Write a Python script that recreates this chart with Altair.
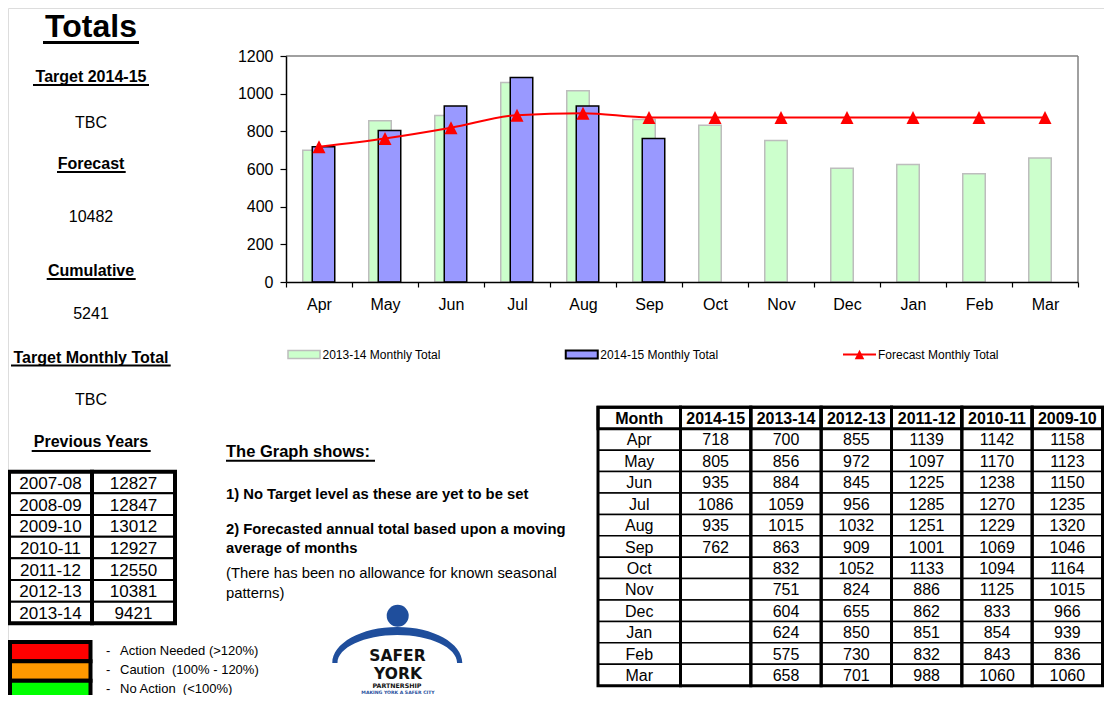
import altair as alt
import pandas as pd

# ---------------- data ----------------
months = ["Apr", "May", "Jun", "Jul", "Aug", "Sep", "Oct", "Nov", "Dec", "Jan", "Feb", "Mar"]
total_2013_14 = [700, 856, 884, 1059, 1015, 863, 832, 751, 604, 624, 575, 658]
total_2014_15 = [718, 805, 935, 1086, 935, 762]
forecast_monthly = [718, 762, 819, 886, 896, 874, 874, 874, 874, 874, 874, 874]
y_ticks = [0, 200, 400, 600, 800, 1000, 1200]
series_names = ["2013-14 Monthly Total", "2014-15 Monthly Total", "Forecast Monthly Total"]

prev_years = ["2007-08", "2008-09", "2009-10", "2010-11", "2011-12", "2012-13", "2013-14"]
prev_totals = [12827, 12847, 13012, 12927, 12550, 10381, 9421]

table_years = ["2014-15", "2013-14", "2012-13", "2011-12", "2010-11", "2009-10"]
tbl_2014_15 = [718, 805, 935, 1086, 935, 762]
tbl_2013_14 = [700, 856, 884, 1059, 1015, 863, 832, 751, 604, 624, 575, 658]
tbl_2012_13 = [855, 972, 845, 956, 1032, 909, 1052, 824, 655, 850, 730, 701]
tbl_2011_12 = [1139, 1097, 1225, 1285, 1251, 1001, 1133, 886, 862, 851, 832, 988]
tbl_2010_11 = [1142, 1170, 1238, 1270, 1229, 1069, 1094, 1125, 833, 854, 843, 1060]
tbl_2009_10 = [1158, 1123, 1150, 1235, 1320, 1046, 1164, 1015, 966, 939, 836, 1060]

rag_labels = ["Action Needed (>120%)", "Caution\u00a0 (100% - 120%)", "No Action\u00a0 (<100%)"]

side_texts = {
    "title": "Totals", "target_h": "Target 2014-15", "target_v": "TBC",
    "forecast_h": "Forecast", "forecast_v": "10482",
    "cum_h": "Cumulative", "cum_v": "5241",
    "tmt_h": "Target Monthly Total", "tmt_v": "TBC", "prev_h": "Previous Years",
}
notes = [
    "The Graph shows: ",
    "1) No Target level as these are yet to be set",
    "2) Forecasted annual total based upon a moving",
    "average of months",
    "(There has been no allowance for known seasonal",
    "patterns)",
]

# ---------------- layout helpers ----------------
FONT = "Liberation Sans, Arial, sans-serif"
W, H = 1096, 687
NAVY = "#1F4E9C"


def R(v):
    # reference page coordinate -> canvas coordinate (page margin 8px)
    return v - 8


def label(s, x, y, size, bold=False, align="center", color="black", font=FONT,
          baseline="alphabetic"):
    return alt.Chart(pd.DataFrame({"t": [s]})).mark_text(
        align=align, baseline=baseline, font=font, fontSize=size,
        fontWeight="bold" if bold else "normal", color=color
    ).encode(x=alt.value(R(x)), y=alt.value(R(y)), text="t:N")


def hrule(x1, x2, y, w=2, color="black"):
    return alt.Chart(pd.DataFrame({"t": [0]})).mark_rule(color=color, strokeWidth=w).encode(
        x=alt.value(R(x1)), x2=alt.value(R(x2)), y=alt.value(R(y)))


def vrule(x, y1, y2, w=2, color="black"):
    return alt.Chart(pd.DataFrame({"t": [0]})).mark_rule(color=color, strokeWidth=w).encode(
        x=alt.value(R(x)), y=alt.value(R(y1)), y2=alt.value(R(y2)))


layers = []

# ---------------- main chart ----------------
X_MAIN = alt.X(
    "month:N", sort=months, title=None,
    scale=alt.Scale(domain=months, range=[R(286), R(1078)], paddingInner=0, paddingOuter=0),
    axis=alt.Axis(orient="bottom", offset=R(282) - H, tickBand="extent", tickSize=5,
                  tickWidth=1.2, tickColor="black", domainColor="black", domainWidth=1.5,
                  labelFont=FONT, labelFontSize=16, labelColor="black", labelPadding=9,
                  labelAngle=0, title=None, zindex=1),
)
Y_MAIN = alt.Y(
    "value:Q", title=None,
    scale=alt.Scale(domain=[0, 1200], range=[R(282), R(56)], nice=False, zero=True),
    axis=alt.Axis(orient="left", offset=-R(286), values=y_ticks, format="d", tickSize=6,
                  tickWidth=1.2, tickColor="black", domainColor="black", domainWidth=1.5,
                  labelFont=FONT, labelFontSize=16, labelColor="black", labelPadding=7,
                  grid=False, title=None, zindex=1),
)
TRI = "M0,-1L1,1L-1,1Z"

df13 = pd.DataFrame({"month": months, "value": total_2013_14})
df14 = pd.DataFrame({"month": months[:len(total_2014_15)], "value": total_2014_15})
dff = pd.DataFrame({"month": months, "value": forecast_monthly})

bars13 = alt.Chart(df13).mark_bar(width=22.5, xOffset=-5, fill="#CCFFCC", stroke="#BDBDBD",
                                  strokeWidth=1.5).encode(x=X_MAIN, y=Y_MAIN)
bars14 = alt.Chart(df14).mark_bar(width=22.5, xOffset=4.5, fill="#9999FF", stroke="black",
                                  strokeWidth=1.5).encode(x=X_MAIN, y=Y_MAIN)
fline = alt.Chart(dff).mark_line(color="#FF0000", strokeWidth=2,
                                 interpolate="monotone").encode(x=X_MAIN, y=Y_MAIN)
fpts = alt.Chart(dff).mark_point(shape=TRI, size=169, filled=True, fill="#FF0000",
                                 opacity=1, strokeWidth=0).encode(x=X_MAIN, y=Y_MAIN)
layers.append(alt.layer(bars13, bars14, fline, fpts))
layers.append(hrule(286, 1078, 56, 1.5, "#808080"))
layers.append(vrule(1078, 56, 282, 1.5, "#808080"))

# ---------------- chart legend ----------------
dleg = pd.DataFrame({"series": series_names})
X_LEG = alt.X("series:N", axis=None,
              scale=alt.Scale(type="point", domain=series_names, range=[R(304), R(859.5)], padding=0))
LEG_Y = alt.value(R(354.5))
RECT = "M-1,-0.25H1V0.25H-1Z"
leg_g = alt.Chart(dleg).transform_filter(alt.datum.series == series_names[0]).mark_point(
    shape=RECT, size=1024, filled=True, fill="#CCFFCC", stroke="#BDBDBD", strokeWidth=1.5,
    opacity=1).encode(x=X_LEG, y=LEG_Y)
leg_b = alt.Chart(dleg).transform_filter(alt.datum.series == series_names[1]).mark_point(
    shape=RECT, size=1024, filled=True, fill="#9999FF", stroke="black", strokeWidth=2,
    opacity=1).encode(x=X_LEG, y=LEG_Y)
leg_l = alt.Chart(dleg).transform_filter(alt.datum.series == series_names[2]).mark_point(
    shape="M-1,0H1", size=1089, filled=False, stroke="#FF0000", strokeWidth=2,
    opacity=1).encode(x=X_LEG, y=LEG_Y)
leg_t = alt.Chart(dleg).transform_filter(alt.datum.series == series_names[2]).mark_point(
    shape=TRI, size=90, filled=True, fill="#FF0000", strokeWidth=0,
    opacity=1).encode(x=X_LEG, y=LEG_Y)
leg_txt = alt.Chart(dleg).mark_text(align="left", baseline="middle", dx=18.5, font=FONT,
                                    fontSize=12, color="black").encode(
    x=X_LEG, y=LEG_Y, text="series:N")
layers.append(alt.layer(leg_g, leg_b, leg_l, leg_t, leg_txt))

# ---------------- left column texts ----------------
CX = 91
layers += [
    label(side_texts["title"], CX, 37, 32, bold=True), hrule(43, 139, 42.5, 2.8),
    label(side_texts["target_h"], CX, 81.7, 16, bold=True), hrule(33, 149, 85, 2),
    label(side_texts["target_v"], CX, 127.7, 16),
    label(side_texts["forecast_h"], CX, 169.3, 16, bold=True), hrule(57, 125.7, 172, 2),
    label(side_texts["forecast_v"], CX, 222.3, 16),
    label(side_texts["cum_h"], CX, 275.7, 16, bold=True), hrule(46.7, 135.7, 279, 2),
    label(side_texts["cum_v"], CX, 319.3, 16),
    label(side_texts["tmt_h"], CX, 362.7, 16, bold=True), hrule(11, 170.7, 365.5, 2),
    label(side_texts["tmt_v"], CX, 405, 16),
    label(side_texts["prev_h"], CX, 447.3, 16, bold=True), hrule(31.7, 150.7, 451, 2),
]


# ---------------- tables ----------------
def table(df, X, Y, col_domain, y_top, y_bot, fsize, cell_w, frame_w, header=None,
          hsize=None, dy=1):
    cells_df = df if header is None else df[df["row"] != header]
    parts = [alt.Chart(cells_df).mark_rect(fill="white", stroke="black",
                                           strokeWidth=cell_w).encode(x=X, y=Y)]
    if header is not None:
        hdf = df[df["row"] == header]
        parts.append(alt.Chart(hdf).mark_rect(fill="white", stroke="black",
                                              strokeWidth=frame_w).encode(x=X, y=Y))
    parts.append(alt.Chart(pd.DataFrame({"col": col_domain})).mark_rect(
        fill="white", fillOpacity=0, stroke="black", strokeWidth=frame_w).encode(
        x=X, y=alt.value(R(y_top)), y2=alt.value(R(y_bot))))
    parts.append(alt.Chart(cells_df).mark_text(font=FONT, fontSize=fsize, baseline="middle",
                                               dy=dy, color="black").encode(
        x=X, y=Y, text="label:N"))
    if header is not None:
        parts.append(alt.Chart(hdf).mark_text(font=FONT, fontSize=hsize, fontWeight="bold",
                                              baseline="middle", dy=dy, color="black").encode(
            x=X, y=Y, text="label:N"))
    return alt.layer(*parts)


# previous years table
prev_cols = ["year", "total"]
prev_df = pd.DataFrame(
    [{"row": y, "col": "year", "label": y} for y in prev_years]
    + [{"row": y, "col": "total", "label": str(t)} for y, t in zip(prev_years, prev_totals)])
X_PREV = alt.X("col:N", axis=None, scale=alt.Scale(domain=prev_cols, range=[R(9), R(175)],
                                                 paddingInner=0, paddingOuter=0))
Y_PREV = alt.Y("row:N", axis=None, scale=alt.Scale(domain=prev_years, range=[R(471.7), R(623.3)],
                                                 paddingInner=0, paddingOuter=0))
layers.append(table(prev_df, X_PREV, Y_PREV, prev_cols, 471.7, 623.3, 17, 2, 4, dy=1.5))

# monthly table
rows_all = ["Month"] + months
year_vals = [tbl_2014_15, tbl_2013_14, tbl_2012_13, tbl_2011_12, tbl_2010_11, tbl_2009_10]
month_df = pd.DataFrame([{"row": r, "col": "Month", "label": r} for r in rows_all])
yrec = []
for yname, vals in zip(table_years, year_vals):
    yrec.append({"row": "Month", "col": yname, "label": yname})
    for i, m in enumerate(months):
        yrec.append({"row": m, "col": yname, "label": str(vals[i]) if i < len(vals) else ""})
years_df = pd.DataFrame(yrec)
Y_BIG = alt.Y("row:N", axis=None, scale=alt.Scale(domain=rows_all, range=[R(407.3), R(685.7)],
                                                paddingInner=0, paddingOuter=0))
X_BIG_M = alt.X("col:N", axis=None, scale=alt.Scale(domain=["Month"], range=[R(598), R(680.5)],
                                                  paddingInner=0, paddingOuter=0))
X_BIG_Y = alt.X("col:N", axis=None, scale=alt.Scale(domain=table_years, range=[R(680.5), R(1102.5)],
                                                  paddingInner=0, paddingOuter=0))
layers.append(table(month_df, X_BIG_M, Y_BIG, ["Month"], 407.3, 685.7, 16, 1.5, 3,
                    header="Month", hsize=16))
layers.append(table(years_df, X_BIG_Y, Y_BIG, table_years, 407.3, 685.7, 16, 1.5, 3,
                    header="Month", hsize=16))

# ---------------- RAG key ----------------
rag_df = pd.DataFrame({"label": rag_labels})
Y_RAG = alt.Y("label:N", axis=None, scale=alt.Scale(domain=rag_labels, range=[R(642), R(700)],
                                                  paddingInner=0, paddingOuter=0))
rag_rect = alt.Chart(rag_df).mark_rect(stroke="black", strokeWidth=4, opacity=1).encode(
    x=alt.value(R(10)), x2=alt.value(R(90.5)), y=Y_RAG,
    color=alt.Color("label:N", legend=None,
                    scale=alt.Scale(domain=rag_labels, range=["#FF0000", "#FF9900", "#00FF00"])))
rag_dash = alt.Chart(rag_df).mark_text(text="-", font=FONT, fontSize=13, baseline="middle",
                                       align="left", dy=-1, color="black").encode(
    x=alt.value(R(106)), y=Y_RAG)
rag_txt = alt.Chart(rag_df).mark_text(font=FONT, fontSize=13, baseline="middle", align="left",
                                      dy=-1, color="black").encode(
    x=alt.value(R(120)), y=Y_RAG, text="label:N")
layers.append(alt.layer(rag_rect, rag_dash, rag_txt).resolve_scale(color="independent"))

# ---------------- notes ----------------
layers += [
    label(notes[0], 226, 456.7, 16.5, bold=True, align="left"), hrule(226, 375, 460.7, 2),
    label(notes[1], 226, 499.3, 14.8, bold=True, align="left"),
    label(notes[2], 226, 534.3, 14.8, bold=True, align="left"),
    label(notes[3], 226, 553, 14.8, bold=True, align="left"),
    label(notes[4], 226, 577.7, 14.8, align="left"),
    label(notes[5], 226, 597.5, 14.8, align="left"),
]

# ---------------- logo ----------------
SWOOSH = ("M-1,0C-1,-0.306,-0.552,-0.554,0,-0.554C0.552,-0.554,1,-0.306,1,0"
          "L0.92,0C0.92,-0.237,0.508,-0.43,0,-0.43C-0.508,-0.43,-0.92,-0.237,-0.92,0Z")
logo_df = pd.DataFrame({"t": [0]})
layers.append(alt.Chart(logo_df).mark_point(shape=SWOOSH, size=16900, filled=True, fill=NAVY,
                                            strokeWidth=0, opacity=1).encode(
    x=alt.value(R(397.3)), y=alt.value(R(663))))
layers.append(alt.Chart(logo_df).mark_point(shape="circle", size=484, filled=True, fill=NAVY,
                                            strokeWidth=0, opacity=1).encode(
    x=alt.value(R(397.7)), y=alt.value(R(615.7))))
LOGO_FONT = "DejaVu Sans, Verdana, sans-serif"
layers += [
    label("SAFER", 397.5, 660.5, 15.5, bold=True, font=LOGO_FONT, color="#111111"),
    label("YORK", 398, 679, 15.5, bold=True, font=LOGO_FONT, color="#111111"),
    label("PARTNERSHIP", 397, 688, 6.3, bold=True, font=LOGO_FONT, color="#111111"),
    label("MAKING YORK A SAFER CITY", 398, 693.6, 4.6, bold=True, font=LOGO_FONT, color=NAVY),
]

chart = alt.layer(*layers).resolve_scale(
    x="independent", y="independent", color="independent"
).properties(
    width=W, height=H, padding=0, autosize=alt.AutoSizeParams(type="none")
).configure_view(stroke="transparent", strokeWidth=0, strokeOpacity=0).configure(background="white")

chart.save("out.html", embed_options={"renderer": "svg", "actions": False})
